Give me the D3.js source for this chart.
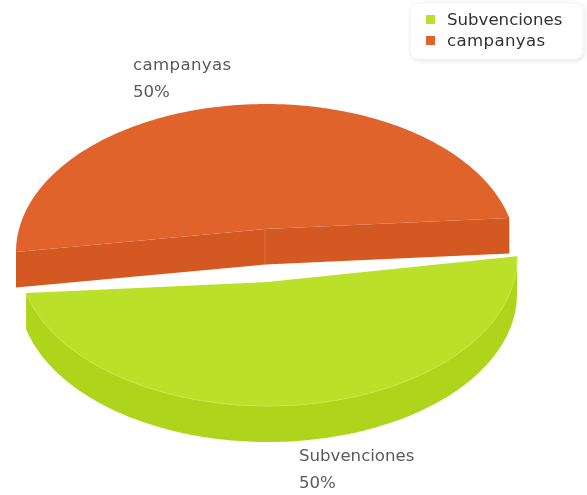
<!DOCTYPE html>
<html><head><meta charset="utf-8">
<script src="https://cdn.jsdelivr.net/npm/d3@7/dist/d3.min.js"></script>
<style>html,body{margin:0;padding:0;background:#fff}svg{display:block}text{font-family:"DejaVu Sans",sans-serif}</style>
</head><body><svg id="c" width="587" height="495"></svg>
<script>
const categories=["Subvenciones","campanyas"];
const values=[50,50];
const percentLabels=["50%","50%"];
const colors=["#bbe02c","#df642c"];
const sideColors=["#afd41e","#d45920"];
const rimColors=["#c6e845","#e26c36"];
const spacing=[0,0.35];

const svg=d3.select("#c");
const defs=svg.append("defs");
const blur=defs.append("filter").attr("id","soft").attr("x","-5%").attr("y","-20%").attr("width","110%").attr("height","140%");
blur.append("feGaussianBlur").attr("stdDeviation",0.55);
const edge=defs.append("filter").attr("id","edge").attr("x","-2%").attr("y","-2%").attr("width","104%").attr("height","104%");
edge.append("feGaussianBlur").attr("stdDeviation",0.4);
const shadow=defs.append("filter").attr("id","sh").attr("x","-10%").attr("y","-20%").attr("width","120%").attr("height","150%");
shadow.append("feDropShadow").attr("dx",1).attr("dy",1.5).attr("stdDeviation",2).attr("flood-color","#000").attr("flood-opacity",0.1);

// per-slice layout of the pseudo-3D pie
const layout=[
 {cx:268,cy:258,rx:249,ry:148,ax:267,ay:282,from:-0.7,to:166.3,depth:36,lx:299,ly:461},
 {cx:266,cy:252,rx:250,ry:148,ax:265,ay:229,from:180,to:346.7,depth:35.5,lx:133,ly:70}
];
const pie=d3.pie().sort(null).value(d=>d).startAngle(0).endAngle(2*Math.PI);
const arcs=pie(values);
const line=d3.line().x(d=>d[0]).y(d=>d[1]);

function rimPoints(L,a,dy){
  const view=d3.scaleLinear().domain([a.startAngle,a.endAngle]).range([L.from,L.to]);
  return d3.range(0,161).map(i=>{
    const t=view(a.startAngle+(a.endAngle-a.startAngle)*i/160)*Math.PI/180;
    return [L.cx+L.rx*Math.cos(t),L.cy+L.ry*Math.sin(t)+dy];
  });
}
const g=svg.append("g").attr("filter","url(#edge)");
[1,0].forEach(i=>{
  const L=layout[i],a=arcs[i];
  const rim=rimPoints(L,a,0);
  const start=rim[0],end=rim[rim.length-1];
  if(i===0){
    const low=rimPoints(L,a,L.depth);
    g.append("path").attr("d",line(rim.concat(low.slice().reverse()))+"Z").attr("fill",sideColors[i]);
    g.append("path").attr("d",line([[L.ax,L.ay]].concat(rim))+"Z").attr("fill",colors[i]);
    g.append("path").attr("d",line(rim)).attr("fill","none").attr("stroke",rimColors[i]).attr("stroke-width",1);
  } else {
    g.append("path").attr("d",line([end,[L.ax,L.ay],[L.ax,L.ay+L.depth],[end[0],end[1]+L.depth]])+"Z").attr("fill",sideColors[i]);
    g.append("path").attr("d",line([[L.ax,L.ay],start,[start[0],start[1]+L.depth],[L.ax,L.ay+L.depth]])+"Z").attr("fill",sideColors[i]);
    g.append("path").attr("d",line([[L.ax,L.ay]].concat(rim))+"Z").attr("fill",colors[i]);
    g.append("path").attr("d",line([[L.ax,L.ay],[L.ax,L.ay+L.depth]])).attr("stroke",rimColors[i]).attr("stroke-width",1).attr("fill","none");
  }
});

// slice labels
layout.forEach((L,i)=>{
  const t=svg.append("g").attr("fill","#5a5a5a").attr("font-size",16.6).attr("filter","url(#soft)");
  t.append("text").attr("x",L.lx).attr("y",L.ly).attr("letter-spacing",spacing[i]).text(categories[i]);
  t.append("text").attr("x",L.lx).attr("y",L.ly+27).text(percentLabels[i]);
});

// legend
const lg=svg.append("g");
lg.append("rect").attr("x",410).attr("y",3).attr("width",173).attr("height",56).attr("rx",8).attr("fill","#fff").attr("stroke","#f3f3f3").attr("filter","url(#sh)");
const y=d3.scalePoint().domain(categories).range([19.5,40.5]);
categories.forEach((c,i)=>{
  lg.append("rect").attr("x",426).attr("y",y(c)-4.5).attr("width",9).attr("height",9).attr("fill",colors[i]).attr("filter","url(#soft)");
  lg.append("text").attr("x",447).attr("y",y(c)+5.5).attr("font-size",16.6).attr("fill","#333").attr("letter-spacing",spacing[i]).attr("filter","url(#soft)").text(c);
});
</script></body></html>
